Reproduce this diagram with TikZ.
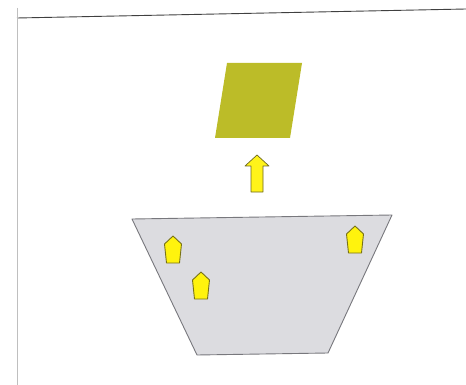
\documentclass[tikz,border=0pt]{standalone}
\begin{document}
\begin{tikzpicture}[x=1pt,y=-1pt,
  gem/.style={fill=yellow!95!white,draw=olive!80!black,line width=0.9pt,line join=round}]
\definecolor{olivefill}{RGB}{188,188,40}
\definecolor{trapfill}{RGB}{220,220,224}
\definecolor{trapline}{RGB}{120,120,125}
\useasboundingbox (0,0) rectangle (466,385);
\fill[white] (0,0) rectangle (466,385);
% frame lines
\draw[black!75,line width=0.9pt] (17,18) -- (466,9);
\draw[black!25,line width=0.8pt] (17,8) -- (17,385);
% parallelogram
\fill[olivefill] (227,63) -- (302,63) -- (290,138) -- (215,138) -- cycle;
% arrow
\draw[fill=yellow!90!white,draw=olive!70!black,line width=0.7pt,line join=round]
  (251,192) -- (251,166) -- (245,166) -- (257,155) -- (269,166) -- (263,166) -- (263,192) -- cycle;
% trapezoid
\draw[fill=trapfill,draw=trapline,line width=0.9pt,line join=round]
  (132,219) -- (392,215) -- (328,353) -- (197,355) -- cycle;
% pentagons
\foreach \cx/\cy in {173/250, 201/286, 355/240} {
  \draw[gem] (\cx,\cy-14) -- (\cx+8.5,\cy-6) -- (\cx+6.5,\cy+13) -- (\cx-6.5,\cy+13) -- (\cx-8.5,\cy-6) -- cycle;
}
\end{tikzpicture}
\end{document}
